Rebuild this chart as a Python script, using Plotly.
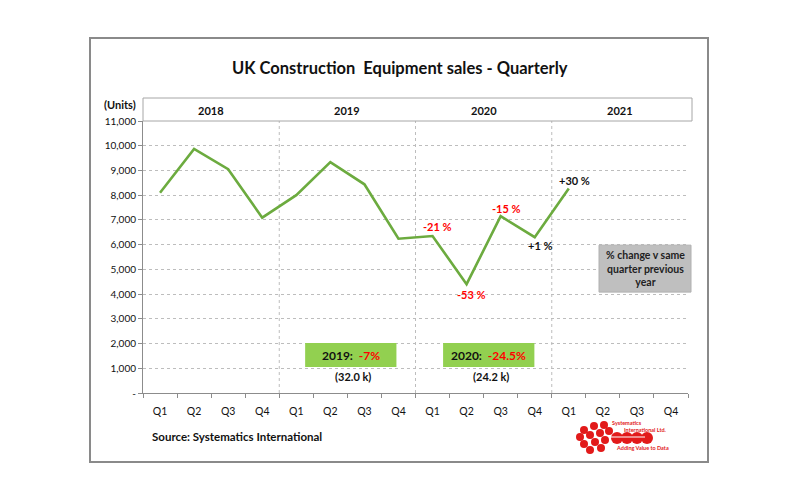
import plotly.graph_objects as go

# ---------------- data ----------------
years = ["2018", "2019", "2020", "2021"]
quarters = ["Q1", "Q2", "Q3", "Q4"] * 4
sales = [8100, 9870, 9050, 7090, 8000, 9340, 8440, 6240,
         6350, 4400, 7150, 6300, 8270]
y_ticks = list(range(0, 11001, 1000))
y_ticktext = ["-"] + [f"{v:,}" for v in y_ticks[1:]]

pct_idx = [8, 9, 10, 11, 12]
pct_text = ["-21 %", "-53 %", "-15 %", "+1 %", "+30 %"]

annual_year = ["2019", "2020"]
annual_change = ["-7%", "-24.5%"]
annual_total = ["(32.0 k)", "(24.2 k)"]

# ---------------- layout helpers ----------------
OFF = 8                              # page body margin
W, H = 800 - 2 * OFF, 500 - 2 * OFF
L, R, T, B = 143, 688, 121, 393      # plot area in screen pixels


def px(x):
    return (x - L) / (R - L)


def py(y):
    return (B - y) / (B - T)


FONT = "Lato, 'Open Sans', sans-serif"
LINE_GREEN = "#6CAB3F"
BOX_GREEN = "#92D050"
GRID = "#BDBDBD"
AXIS = "#8C8C8C"

x_idx = list(range(len(quarters)))

fig = go.Figure()
fig.add_trace(go.Scatter(
    x=x_idx[:len(sales)], y=sales, mode="lines",
    line=dict(color=LINE_GREEN, width=2.6), hoverinfo="skip", showlegend=False))

shapes = []
annotations = []


def note(x, y, text, size, color="#111", xref="paper", yref="paper",
         xanchor="center", yanchor="middle", **kw):
    annotations.append(dict(x=x, y=y, xref=xref, yref=yref, text=text,
                            showarrow=False, xanchor=xanchor, yanchor=yanchor,
                            font=dict(family=FONT, size=size, color=color), **kw))


# outer frame
shapes.append(dict(type="rect", xref="paper", yref="paper",
                   x0=px(90), x1=px(708), y0=py(462), y1=py(38),
                   line=dict(color="#8A8A8A", width=2), fillcolor="rgba(0,0,0,0)", layer="below"))

# header box with years
shapes.append(dict(type="rect", xref="paper", yref="paper",
                   x0=0, x1=px(692), y0=1, y1=py(98),
                   line=dict(color="#A6A6A6", width=1), fillcolor="white"))
for i, yr in enumerate(years):
    note(4 * i + 1.5, py(111), f"<b>{yr}</b>", 11, xref="x")

# year separators
for i in range(1, len(years)):
    shapes.append(dict(type="line", xref="x", yref="paper",
                       x0=4 * i - 0.5, x1=4 * i - 0.5, y0=0, y1=1,
                       line=dict(color=GRID, width=1, dash="dot"), layer="below"))

# title and units
note(px(400), py(68), "<b>UK Construction  Equipment sales - Quarterly</b>", 16.5)
note(px(120), py(104), "<b>(Units)</b>", 11)

# percent change labels
pct_colors = ["#FF0000", "#FF0000", "#FF0000", "#111111", "#111111"]
pct_shift = [(5, 9), (5, -10), (6, 8), (5, -8), (6, 8)]
for idx, txt, col, (dx, dy) in zip(pct_idx, pct_text, pct_colors, pct_shift):
    note(idx, sales[idx], f"<b>{txt}</b>", 11, col, xref="x", yref="y",
         xshift=dx, yshift=dy)

# annual summary boxes
box_centers = [5.6, 9.65]
for c, yr, chg, tot in zip(box_centers, annual_year, annual_change, annual_total):
    shapes.append(dict(type="rect", xref="x", yref="y",
                       x0=c - 1.34, x1=c + 1.34, y0=1050, y1=2020,
                       line=dict(width=0), fillcolor=BOX_GREEN))
    note(c, 1535, f"<b>{yr}:  <span style='color:#FF0000'>{chg}</span></b>", 12,
         xref="x", yref="y")
    note(c + 0.07, 660, f"<b>{tot}</b>", 11, xref="x", yref="y")

# grey note box
shapes.append(dict(type="rect", xref="paper", yref="y",
                   x0=px(599), x1=px(691), y0=4080, y1=5980,
                   line=dict(color="#B0B0B0", width=1), fillcolor="#BFBFBF"))
note(px(645), 5030, "<b>% change v same<br>quarter previous<br>year</b>", 10.5,
     "#222", yref="y", align="center")

# source
note(px(150), py(436), "<b>Source: Systematics International</b>", 11.5,
     xanchor="left")

# logo (approximation)
RED = "#E21A1A"
small = [(584, 430), (594, 426), (604, 425), (580, 437), (590, 435), (600, 433),
         (609, 431), (584, 444), (595, 442), (605, 440), (590, 450), (601, 448)]
for cx, cy in small:
    r = 4
    shapes.append(dict(type="circle", xref="paper", yref="paper",
                       x0=px(cx - r), x1=px(cx + r), y0=py(cy + r), y1=py(cy - r),
                       line=dict(width=0), fillcolor=RED))
for cx in [617, 627, 637, 647]:
    r = 6
    shapes.append(dict(type="circle", xref="paper", yref="paper",
                       x0=px(cx - r), x1=px(cx + r), y0=py(438 + r), y1=py(438 - r),
                       line=dict(width=0), fillcolor=RED))
shapes.append(dict(type="line", xref="paper", yref="paper",
                   x0=px(610), x1=px(645), y0=py(437), y1=py(437),
                   line=dict(color="white", width=1)))
note(px(610), py(422.5), "<b>Systematics</b>", 5.5, RED, xanchor="left")
note(px(622), py(429.5), "<b>International Ltd.</b>", 5.5, RED, xanchor="left")
note(px(614), py(448), "<b>Adding Value to Data</b>", 5.5, RED, xanchor="left")

fig.update_layout(
    width=W, height=H,
    margin=dict(l=L - OFF, r=W - (R - OFF), t=T - OFF, b=H - (B - OFF), pad=0),
    paper_bgcolor="white", plot_bgcolor="white",
    showlegend=False,
    shapes=shapes, annotations=annotations,
    xaxis=dict(range=[-0.5, 15.5], tickvals=x_idx, ticktext=quarters,
               ticks="", showgrid=False, zeroline=False,
               showline=True, linecolor=AXIS, linewidth=1,
               minor=dict(tickvals=[i - 0.5 for i in range(17)], ticks="outside",
                          ticklen=4, tickcolor=AXIS, showgrid=False),
               ticklabelstandoff=8,
               tickfont=dict(family=FONT, size=10.5, color="#111")),
    yaxis=dict(range=[0, 11000], tickvals=y_ticks, ticktext=y_ticktext,
               ticks="outside", ticklen=4, tickcolor=AXIS,
               showgrid=True, gridcolor=GRID, griddash="dot", gridwidth=1,
               zeroline=False, showline=True, linecolor=AXIS, linewidth=1,
               tickfont=dict(family=FONT, size=10, color="#111")),
)

fig.write_html("out.html")
